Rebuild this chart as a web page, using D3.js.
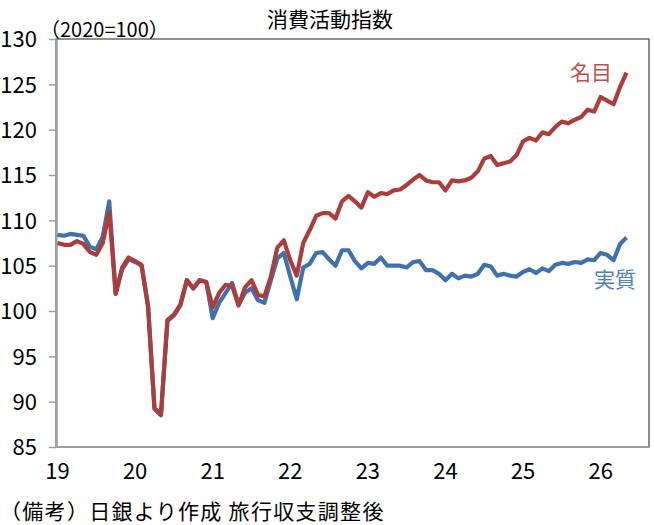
<!DOCTYPE html>
<html>
<head>
<meta charset="utf-8">
<script src="https://cdn.jsdelivr.net/npm/d3@7"></script>
<style>
  body { margin: 0; background: #fff; }
  svg { display: block; font-family: "Noto Sans CJK JP", "Noto Sans", sans-serif; }
</style>
</head>
<body>
<div id="chart"></div>
<script>
// Monthly data, Jan 2019 onward
const nominal = [
  107.5, 107.3, 107.3, 107.7, 107.4, 106.5, 106.2, 107.5, 110.9, 101.9, 104.8, 105.9,
  105.5, 105.1, 100.6, 89.3, 88.6, 99.0, 99.6, 100.7, 103.4, 102.5, 103.4, 103.2,
  100.4, 102.0, 102.9, 102.8, 100.6, 102.6, 103.4, 101.8, 101.6, 103.8, 107.0, 107.8,
  105.6, 103.9, 107.5, 108.9, 110.5, 110.8, 110.8, 110.2, 112.1, 112.7, 112.1, 111.4,
  113.1, 112.6, 113.0, 112.9, 113.3, 113.4, 113.9, 114.5, 115.0, 114.4, 114.2, 114.2,
  113.3, 114.4, 114.3, 114.4, 114.7, 115.4, 116.8, 117.1, 116.1, 116.3, 116.5, 117.2,
  118.7, 119.1, 118.8, 119.7, 119.5, 120.3, 120.9, 120.7, 121.1, 121.4, 122.2, 122.0,
  123.6, 123.2, 122.8, 124.7, 126.3
];
const real = [
  108.4, 108.3, 108.5, 108.4, 108.3, 107.1, 106.8, 108.2, 112.1, 101.9, 104.6, 105.7,
  105.4, 105.0, 100.5, 89.2, 88.5, 98.9, 99.5, 100.6, 103.4, 102.5, 103.4, 103.2,
  99.2, 100.9, 102.0, 103.1, 100.7, 102.0, 102.5, 101.2, 100.9, 103.4, 105.8, 106.4,
  103.8, 101.3, 104.8, 105.2, 106.4, 106.5, 105.7, 105.0, 106.7, 106.7, 105.5, 104.7,
  105.3, 105.2, 105.9, 105.0, 105.0, 105.0, 104.8, 105.4, 105.5, 104.5, 104.5, 104.1,
  103.4, 104.1, 103.6, 103.9, 103.8, 104.1, 105.1, 104.9, 103.9, 104.1, 103.9, 103.8,
  104.3, 104.6, 104.2, 104.7, 104.4, 105.1, 105.3, 105.2, 105.4, 105.3, 105.7, 105.6,
  106.4, 106.2, 105.6, 107.4, 108.1
];
const yearLabels = ["19", "20", "21", "22", "23", "24", "25", "26"];
const yTicks = [85, 90, 95, 100, 105, 110, 115, 120, 125, 130];

const width = 654, height = 525;
const plotLeft = 56, plotRight = 649, plotTop = 39, plotBottom = 447;

const redLine = "#ad3d3b", blueLine = "#3f72ad";
const numFont = "'Liberation Sans Narrow', 'Noto Sans CJK JP', sans-serif";

const svg = d3.select("#chart").append("svg")
    .attr("width", width)
    .attr("height", height);

const x = d3.scaleLinear().domain([0, nominal.length - 1]).range([57.5, 626.5]);
const y = d3.scaleLinear().domain([85, 130]).range([plotBottom, plotTop]);

// plot frame
svg.append("rect")
    .attr("x", plotLeft).attr("y", plotTop)
    .attr("width", plotRight - plotLeft).attr("height", plotBottom - plotTop)
    .attr("fill", "none")
    .attr("stroke", "#444")
    .attr("stroke-width", 1.2);

// y axis
const yAxis = svg.append("g").attr("transform", `translate(${plotLeft},0)`)
    .call(d3.axisLeft(y).tickValues(yTicks).tickSize(7).tickSizeOuter(0));
yAxis.select(".domain").attr("stroke", "#a0a0a0").attr("stroke-width", 2.5);
yAxis.selectAll(".tick line").attr("stroke", "#a0a0a0").attr("stroke-width", 1.5);
yAxis.selectAll(".tick text")
    .attr("x", -19)
    .attr("dy", "0.36em")
    .attr("fill", "#000")
    .style("font-size", "22px")
    .style("font-family", numFont);

// x axis
svg.append("line")
    .attr("x1", plotLeft).attr("x2", plotRight)
    .attr("y1", plotBottom).attr("y2", plotBottom)
    .attr("stroke", "#a0a0a0").attr("stroke-width", 1.5);

svg.append("g").selectAll("text")
    .data(yearLabels)
    .enter()
    .append("text")
    .attr("x", (d, i) => x(i * 12))
    .attr("y", 479)
    .attr("text-anchor", "middle")
    .style("font-size", "22px")
    .style("font-family", numFont)
    .text(d => d);

// lines
const line = d3.line()
    .x((d, i) => x(i))
    .y(d => y(d));

svg.append("path")
    .datum(real)
    .attr("d", line)
    .attr("fill", "none")
    .attr("stroke", blueLine)
    .attr("stroke-width", 4.2)
    .attr("stroke-linejoin", "round");

svg.append("path")
    .datum(nominal)
    .attr("d", line)
    .attr("fill", "none")
    .attr("stroke", redLine)
    .attr("stroke-width", 4.2)
    .attr("stroke-linejoin", "round");

// series labels
svg.append("text")
    .attr("x", 591).attr("y", 80)
    .attr("text-anchor", "middle")
    .attr("fill", "#c0504d")
    .style("font-size", "21px")
    .text("名目");

svg.append("text")
    .attr("x", 615).attr("y", 287)
    .attr("text-anchor", "middle")
    .attr("fill", "#4f81bd")
    .style("font-size", "21px")
    .text("実質");

// title and notes
svg.append("text")
    .attr("x", 330).attr("y", 27)
    .attr("text-anchor", "middle")
    .style("font-size", "21px")
    .text("消費活動指数");

svg.append("text")
    .attr("x", 40).attr("y", 37)
    .style("font-size", "20px")
    .text("（2020=100）");

svg.append("text")
    .attr("x", 0).attr("y", 519)
    .style("font-size", "21px")
    .style("letter-spacing", "1.3px")
    .text("（備考）日銀より作成 旅行収支調整後");
</script>
</body>
</html>
